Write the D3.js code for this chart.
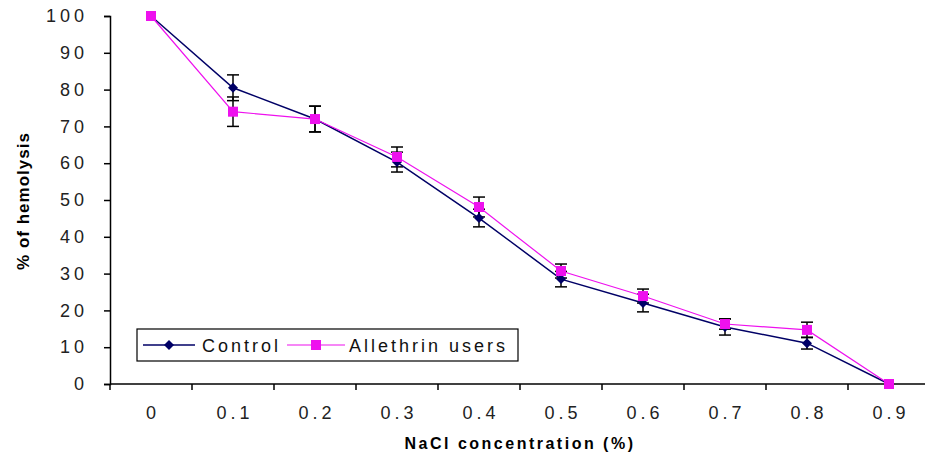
<!DOCTYPE html>
<html>
<head>
<meta charset="utf-8">
<script src="https://cdn.jsdelivr.net/npm/d3@7"></script>
<style>
  html, body { margin: 0; padding: 0; background: #fff; }
  svg { display: block; }
</style>
</head>
<body>
<svg id="chart" width="925" height="454"></svg>
<script>
const categories = ["0", "0.1", "0.2", "0.3", "0.4", "0.5", "0.6", "0.7", "0.8", "0.9"];
const controlValues = [100, 80.5, 72, 60.3, 45.1, 28.5, 22, 15.5, 11.1, 0];
const controlErrors = [0, 3.5, 3.5, 2.7, 2.4, 2.1, 2.4, 2.2, 1.6, 0];
const allethrinValues = [100, 74, 72, 61.7, 48.1, 30.7, 23.9, 16.3, 14.7, 0];
const allethrinErrors = [0, 4, 3.5, 2.7, 2.7, 1.9, 1.9, 1.4, 2.1, 0];
const yTicks = [0, 10, 20, 30, 40, 50, 60, 70, 80, 90, 100];
const seriesNames = ["Control", "Allethrin users"];

(function () {
const svg = d3.select("#chart");
const plotLeft = 110, plotTop = 16, plotBottom = 384;
const step = 82;

const x = d3.scaleBand().domain(categories).range([plotLeft, plotLeft + step * categories.length]).padding(0);
const y = d3.scaleLinear().domain([0, 100]).range([plotBottom, plotTop]);

const tickFont = "'Liberation Sans', Arial, sans-serif";

// Y axis
const yAxis = d3.axisLeft(y).tickValues(yTicks).tickSize(6).tickPadding(16);
const yg = svg.append("g").attr("transform", `translate(${plotLeft},0)`).call(yAxis);
yg.select(".domain").attr("stroke", "#000").attr("stroke-width", 1.5);
yg.selectAll(".tick line").attr("stroke", "#000").attr("stroke-width", 1.5);
yg.selectAll(".tick text")
  .attr("font-family", tickFont).attr("font-size", 18).attr("fill", "#222")
  .attr("letter-spacing", "4px");

// X axis (labels centered, ticks at band boundaries)
const xg = svg.append("g").attr("transform", `translate(0,${plotBottom})`);
xg.append("line").attr("x1", plotLeft).attr("x2", 925).attr("y1", 0).attr("y2", 0)
  .attr("stroke", "#000").attr("stroke-width", 1.5);
xg.selectAll("line.tk").data(categories).enter().append("line").attr("class", "tk")
  .attr("x1", d => x(d)).attr("x2", d => x(d)).attr("y1", 0).attr("y2", 6)
  .attr("stroke", "#000").attr("stroke-width", 1.5);
xg.selectAll("text.lbl").data(categories).enter().append("text").attr("class", "lbl")
  .attr("x", d => x(d) + x.bandwidth() / 2 + 2).attr("y", 35)
  .attr("text-anchor", "middle")
  .attr("font-family", tickFont).attr("font-size", 18).attr("fill", "#222")
  .attr("letter-spacing", "4px")
  .text(d => d);

// Axis titles
svg.append("text")
  .attr("x", 520).attr("y", 449).attr("text-anchor", "middle")
  .attr("font-family", tickFont).attr("font-size", 16).attr("font-weight", "bold")
  .attr("letter-spacing", "2.5px")
  .text("NaCl concentration (%)");
svg.append("text")
  .attr("transform", "translate(29,201) rotate(-90)").attr("text-anchor", "middle")
  .attr("font-family", tickFont).attr("font-size", 17).attr("font-weight", "bold")
  .attr("letter-spacing", "1px")
  .text("% of hemolysis");

const cx = d => x(d) + x.bandwidth() / 2;

const series = [
  { name: seriesNames[0], values: controlValues, errors: controlErrors, color: "#000066", width: 1.5, marker: "diamond" },
  { name: seriesNames[1], values: allethrinValues, errors: allethrinErrors, color: "#ee11ee", width: 1.2, marker: "square" }
];

const line = d3.line().x((d, i) => cx(categories[i])).y(d => y(d));

function drawMarker(g, type, px, py, color) {
  if (type === "diamond") {
    g.append("path")
      .attr("d", `M${px},${py - 5}L${px + 5},${py}L${px},${py + 5}L${px - 5},${py}Z`)
      .attr("fill", color);
  } else {
    g.append("rect").attr("x", px - 5).attr("y", py - 5).attr("width", 10).attr("height", 10)
      .attr("fill", color);
  }
}

// Error bars
series.forEach(s => {
  const eg = svg.append("g");
  s.values.forEach((v, i) => {
    const e = s.errors[i];
    if (!e) return;
    const px = cx(categories[i]);
    eg.append("line").attr("x1", px).attr("x2", px).attr("y1", y(v + e)).attr("y2", y(v - e))
      .attr("stroke", "#000").attr("stroke-width", 1.5);
    [v + e, v - e].forEach(t => {
      eg.append("line").attr("x1", px - 6).attr("x2", px + 6).attr("y1", y(t)).attr("y2", y(t))
        .attr("stroke", "#000").attr("stroke-width", 1.5);
    });
  });
});

// Lines and markers
series.forEach(s => {
  svg.append("path").datum(s.values).attr("d", line)
    .attr("fill", "none").attr("stroke", s.color).attr("stroke-width", s.width);
  const mg = svg.append("g");
  s.values.forEach((v, i) => drawMarker(mg, s.marker, cx(categories[i]), y(v), s.color));
});

// Legend
const lg = svg.append("g");
lg.append("rect").attr("x", 137).attr("y", 329).attr("width", 381).attr("height", 32)
  .attr("fill", "#fff").attr("stroke", "#000").attr("stroke-width", 1.2);
const legendItems = [
  { s: series[0], x0: 143, x1: 195, tx: 202 },
  { s: series[1], x0: 287, x1: 345, tx: 349 }
];
legendItems.forEach(it => {
  lg.append("line").attr("x1", it.x0).attr("x2", it.x1).attr("y1", 345).attr("y2", 345)
    .attr("stroke", it.s.color).attr("stroke-width", it.s.width);
  drawMarker(lg, it.s.marker, (it.x0 + it.x1) / 2, 345, it.s.color);
  lg.append("text").attr("x", it.tx).attr("y", 352)
    .attr("font-family", tickFont).attr("font-size", 18).attr("fill", "#111")
    .attr("letter-spacing", "3px")
    .text(it.s.name);
});
})();
</script>
</body>
</html>
